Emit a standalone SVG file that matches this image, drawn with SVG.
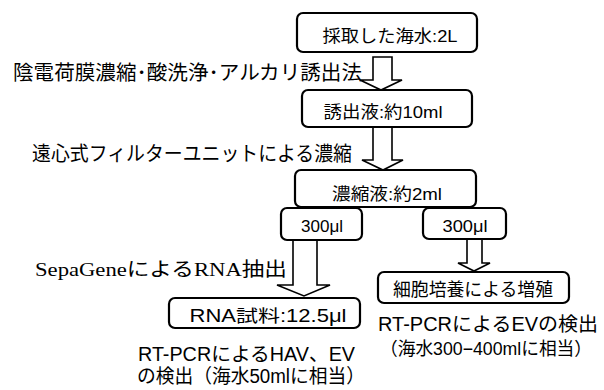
<svg xmlns="http://www.w3.org/2000/svg" width="604" height="390" viewBox="0 0 604 390">
<style>
.box{fill:#fff;stroke:#000;stroke-width:2.2}
.arr{fill:#fff;stroke:#000;stroke-width:1.6;stroke-linejoin:miter}
text{font-family:"Liberation Sans","Noto Sans CJK JP",sans-serif;fill:#000}
.bt{font-size:16.5px;text-anchor:middle}
.lbl{font-size:20.5px}
.ser{font-family:"Liberation Serif","Noto Sans CJK JP",serif;font-size:19px}
.res{font-size:19.5px}
</style>
<rect width="604" height="390" fill="#fff"/>
<g id="connectors">
<polygon class="arr" points="373,57 392,57 392,80 402,80 381,90 360,80 373,80"/>
<polygon class="arr" points="373,127 392,127 392,160 403,160 383,170 362,160 373,160"/>
<polygon class="arr" points="293,240 317,240 317,285 330,285 304,296 277,285 293,285"/>
<polygon class="arr" points="467,239 482,239 482,263 490,263 474,271 458,263 467,263"/>
</g>
<g id="n1"><rect class="box" x="297" y="13" width="180" height="39" rx="6"/><text class="bt" x="390" y="42" textLength="135" lengthAdjust="spacingAndGlyphs">採取した海水:2L</text></g>
<g id="n2"><rect class="box" x="302" y="90" width="170" height="37" rx="6"/><text class="bt" x="383" y="118" textLength="119" lengthAdjust="spacingAndGlyphs">誘出液:約10ml</text></g>
<g id="n3"><rect class="box" x="295" y="170" width="181" height="37" rx="6"/><text class="bt" x="387" y="200" textLength="110" lengthAdjust="spacingAndGlyphs">濃縮液:約2ml</text></g>
<g id="n4"><rect class="box" x="281" y="208" width="81" height="32" rx="6"/><text class="bt" x="322" y="232" textLength="42" lengthAdjust="spacingAndGlyphs">300μl</text></g>
<g id="n5"><rect class="box" x="423" y="208" width="83" height="31" rx="6"/><text class="bt" x="465" y="232" textLength="45" lengthAdjust="spacingAndGlyphs">300μl</text></g>
<g id="n6"><rect class="box" x="169" y="298" width="191" height="30" rx="6"/><text class="bt" x="268" y="322" style="font-size:17.5px" textLength="157" lengthAdjust="spacingAndGlyphs">RNA試料:12.5μl</text></g>
<g id="n7"><rect class="box" x="378" y="272" width="191" height="31" rx="6"/><text class="bt" x="473" y="296" style="font-size:18px" textLength="160" lengthAdjust="spacingAndGlyphs">細胞培養による増殖</text></g>
<g id="labels">
<text class="lbl" x="13" y="80" textLength="349" lengthAdjust="spacingAndGlyphs">陰電荷膜濃縮･酸洗浄･アルカリ誘出法</text>
<text class="lbl" x="32" y="161" textLength="320" lengthAdjust="spacingAndGlyphs">遠心式フィルターユニットによる濃縮</text>
<text class="ser" x="35" y="276" textLength="252" lengthAdjust="spacingAndGlyphs">SepaGeneによるRNA抽出</text>
<text class="res" x="138" y="361" textLength="217" lengthAdjust="spacingAndGlyphs">RT-PCRによるHAV、EV</text>
<text class="res" x="137" y="383" textLength="228" lengthAdjust="spacingAndGlyphs">の検出（海水50mlに相当）</text>
<text class="res" x="378" y="331" textLength="220" lengthAdjust="spacingAndGlyphs">RT-PCRによるEVの検出</text>
<text class="res" x="380" y="355" style="font-size:18px" textLength="212" lengthAdjust="spacingAndGlyphs">（海水300−400mlに相当）</text>
</g>
</svg>
